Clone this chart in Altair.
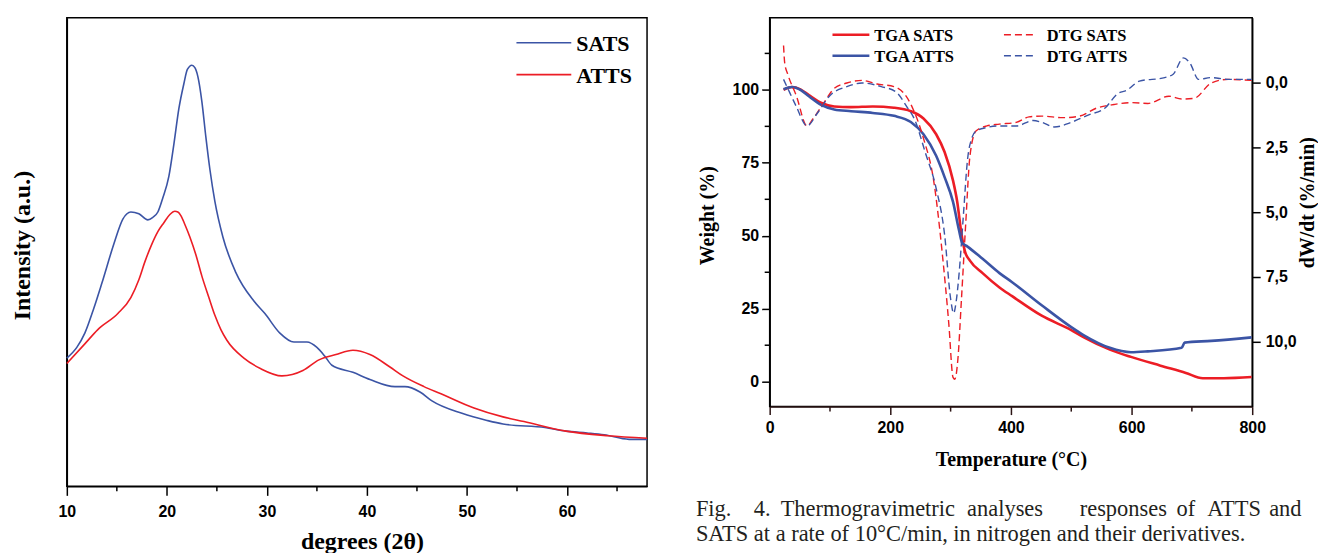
import altair as alt
import pandas as pd

BLUE = "#3b54a5"
RED = "#ec1d25"

# ---------------- XRD (left panel) ----------------
SATS_2THETA = [10.0, 11.0, 11.8, 12.7, 13.5, 14.7, 15.6, 16.4, 17.2, 18.1, 18.6, 19.1, 19.6, 20.2, 20.7,
               21.2, 21.7, 22.05, 22.5, 22.8, 23.1, 23.5, 23.9, 24.3, 24.8, 25.6, 26.9, 28.7, 29.8, 31.3,
               32.7, 34.0, 35.0, 35.8, 36.5, 38.6, 40.3, 42.8, 43.8, 45.3, 46.5, 49.5, 52.0, 53.6, 57.8,
               59.9, 62.0, 63.7, 66.2, 68.0]
SATS_INTENSITY = [36.0, 39.0, 43.0, 50.0, 57.0, 68.0, 75.0, 77.0, 76.5, 74.8, 75.5, 77.0, 81.0, 87.0, 96.0,
                  106.0, 113.0, 117.0, 118.2, 117.5, 115.0, 108.0, 98.0, 89.0, 80.0, 70.0, 60.0, 52.0, 48.5, 43.0,
                  40.5, 40.5, 39.0, 36.5, 34.0, 32.0, 30.0, 28.0, 28.0, 26.5, 24.0, 20.5, 18.5, 17.5, 16.5,
                  15.5, 15.0, 14.5, 13.2, 13.2]
ATTS_2THETA = [10.0, 11.8, 13.1, 15.1, 16.4, 17.2, 17.8, 18.5, 19.1, 19.7, 20.3, 20.8, 21.1, 21.4, 21.8,
               22.3, 22.9, 23.5, 24.2, 24.8, 25.4, 26.0, 27.7, 29.4, 31.5, 33.6, 35.2, 36.9, 38.6, 40.3,
               42.3, 43.6, 45.7, 47.4, 50.7, 53.6, 55.7, 59.9, 64.1, 68.0]
ATTS_INTENSITY = [34.5, 40.0, 44.0, 48.5, 53.0, 58.0, 63.0, 68.0, 71.5, 74.0, 76.3, 77.2, 77.0, 76.0, 73.5,
                  70.0, 65.0, 59.0, 53.0, 48.0, 44.0, 41.0, 36.0, 33.0, 31.0, 32.5, 35.5, 37.0, 38.2, 37.0,
                  33.5, 31.0, 28.0, 26.0, 22.0, 19.5, 18.2, 15.5, 14.2, 13.5]
XRD_TICKS = [10, 20, 30, 40, 50, 60]
XRD_MINOR = [15, 25, 35, 45, 55, 65]

# ---------------- TGA / DTG (right panel) ----------------
TGA_SATS_T = [23, 37, 51, 65, 86, 107, 135, 171, 206, 234, 255, 276, 290, 304, 311, 318, 324, 332, 353, 381,
              402, 451, 500, 521, 564, 599, 648, 690, 718, 753, 799]
TGA_SATS_W = [100, 101, 100.2, 98.2, 95.5, 94.3, 94.1, 94.3, 93.9, 92.7, 90.2, 84.8, 78.7, 68.9, 61.6, 50.6,
              44.5, 41.5, 37.2, 32.3, 29.3, 22.6, 17.7, 15.2, 11.0, 8.5, 5.5, 3.0, 1.2, 1.2, 1.6]
TGA_ATTS_T = [23, 37, 51, 65, 86, 107, 135, 171, 206, 234, 255, 276, 290, 304, 314, 319, 328, 353, 381, 402,
              451, 500, 521, 564, 599, 627, 683, 688, 732, 799]
TGA_ATTS_W = [100.2, 101, 100, 97.8, 94.8, 93.3, 92.7, 92.1, 91.1, 89, 84.8, 77.4, 70.1, 61.6, 51.8, 47.6,
              46.3, 42.1, 37.2, 34.1, 26.2, 18.7, 15.9, 11.6, 10.1, 10.4, 11.6, 13.4, 14.0, 15.2]
DTG_SATS_T = [23, 25, 30, 44, 62, 72, 90, 107, 128, 153, 178, 206, 223, 237, 255, 272, 286, 297, 304, 307,
              312, 318, 325, 332, 342, 360, 381, 409, 430, 451, 486, 514, 542, 571, 599, 627, 662, 683, 704,
              732, 760, 799]
DTG_SATS_D = [-1.45, -0.76, -0.34, 0.48, 1.66, 1.38, 0.76, 0.21, 0.0, -0.1, 0.04, 0.14, 0.41, 0.97, 2.14,
              3.79, 6.55, 9.31, 11.38, 11.45, 10.69, 8.34, 5.45, 2.83, 1.86, 1.66, 1.59, 1.52, 1.31, 1.28,
              1.34, 1.28, 0.97, 0.83, 0.76, 0.79, 0.51, 0.62, 0.59, 0.0, -0.14, -0.1]
DTG_ATTS_T = [23, 30, 44, 62, 79, 100, 128, 153, 185, 209, 227, 241, 258, 276, 290, 300, 305, 309, 314, 321,
              328, 335, 342, 360, 381, 409, 437, 451, 472, 500, 528, 556, 577, 592, 613, 655, 669, 686, 697,
              711, 732, 760, 799]
DTG_ATTS_D = [-0.14, 0.21, 0.90, 1.66, 1.17, 0.48, 0.14, 0.0, 0.14, 0.34, 0.90, 1.45, 2.69, 4.07, 5.86, 8.34,
              8.90, 8.48, 7.38, 5.17, 2.97, 2.14, 1.86, 1.72, 1.66, 1.66, 1.45, 1.52, 1.70, 1.52, 1.24, 0.97,
              0.41, 0.28, -0.07, -0.21, -0.34, -0.97, -0.76, -0.14, -0.21, -0.14, -0.14]
TEMP_TICKS = [0, 200, 400, 600, 800]
TEMP_MINOR = [100, 300, 500, 700]
WEIGHT_TICKS = [0, 25, 50, 75, 100]
WEIGHT_MINOR = [12.5, 37.5, 62.5, 87.5, 112.5]
DTG_TICKS = [0, 2.5, 5, 7.5, 10]
SERIES = ["TGA SATS", "TGA ATTS", "DTG SATS", "DTG ATTS"]
SERIES_COLORS = [RED, BLUE, RED, BLUE]
SERIES_DASHES = [[1, 0], [1, 0], [7, 4], [7, 4]]
SERIES_WIDTHS = [2.6, 2.6, 1.4, 1.4]

# legend layout (pixels, relative to each plot's top-left corner)
XRD_LEGEND_LABELS = ["SATS", "ATTS"]
XRD_LEGEND_COLORS = [BLUE, RED]
XRD_LEGEND_Y = [25, 57]
TG_LEGEND_X = [63, 63, 235, 235]
TG_LEGEND_Y = [17, 38, 17, 38]
TG_LEGEND_LEN = [37, 37, 33, 33]

CAPTION1_WORDS = ["Fig.", "4.", "Thermogravimetric", "analyses", "responses", "of", "ATTS", "and"]
CAPTION1_X = [-74, -16, 11, 198, 311, 408, 439, 501]
CAPTION2 = "SATS at a rate of 10\u00b0C/min, in nitrogen and their derivatives."

SANS = "Liberation Sans"
SERIF = "Liberation Serif"

# ---------------- left panel ----------------
xrd_df = pd.concat([
    pd.DataFrame({"two_theta": SATS_2THETA, "intensity": SATS_INTENSITY, "sample": "SATS"}),
    pd.DataFrame({"two_theta": ATTS_2THETA, "intensity": ATTS_INTENSITY, "sample": "ATTS"}),
], ignore_index=True)

xrd_x_scale = alt.Scale(domain=[10, 68], nice=False, zero=False)
xrd_x_axis = alt.Axis(values=XRD_TICKS, tickSize=9, labelPadding=8, labelFont=SANS, labelFlush=False,
                      labelFontWeight="bold", labelFontSize=16, title="degrees (2\u03b8)",
                      titleX=296, titleY=55, titleAlign="center", titleBaseline="middle",
                      titleFont=SERIF, titleFontSize=24, titleFontWeight="bold")

xrd_lines = alt.Chart(xrd_df).mark_line(strokeWidth=1.6, interpolate="monotone").encode(
    x=alt.X("two_theta:Q", scale=xrd_x_scale, axis=xrd_x_axis),
    y=alt.Y("intensity:Q", scale=alt.Scale(domain=[0, 131.5], nice=False, zero=False),
            axis=alt.Axis(labels=False, ticks=False, title="Intensity (a.u.)", titleX=-44, titleY=228,
                          titleAngle=270, titleAlign="center", titleBaseline="middle",
                          titleFont=SERIF, titleFontSize=24, titleFontWeight="bold")),
    color=alt.Color("sample:N", scale=alt.Scale(domain=XRD_LEGEND_LABELS, range=XRD_LEGEND_COLORS),
                    legend=None),
)
xrd_minor = alt.Chart(pd.DataFrame({"two_theta": XRD_MINOR})).mark_rule(color="black", strokeWidth=1.5).encode(
    x=alt.X("two_theta:Q", scale=xrd_x_scale, axis=xrd_x_axis), y=alt.value(470), y2=alt.value(475))

xrd_legend = []
for lab, col, ly in zip(XRD_LEGEND_LABELS, XRD_LEGEND_COLORS, XRD_LEGEND_Y):
    xrd_legend.append(alt.Chart(pd.DataFrame({"lab": [lab]})).mark_rule(strokeWidth=1.6, color=col).encode(
        x=alt.value(451), x2=alt.value(506), y=alt.value(ly)))
    xrd_legend.append(alt.Chart(pd.DataFrame({"lab": [lab]})).mark_text(
        align="left", baseline="middle", font=SERIF, fontWeight="bold", fontSize=22, color="black"
    ).encode(text="lab:N", x=alt.value(511), y=alt.value(ly + 1)))

left = alt.layer(xrd_lines, xrd_minor, *xrd_legend).properties(width=582, height=470)

# ---------------- right panel ----------------
tga_df = pd.concat([
    pd.DataFrame({"temp": TGA_SATS_T, "weight": TGA_SATS_W, "series": "TGA SATS"}),
    pd.DataFrame({"temp": TGA_ATTS_T, "weight": TGA_ATTS_W, "series": "TGA ATTS"}),
], ignore_index=True)
dtg_df = pd.concat([
    pd.DataFrame({"temp": DTG_SATS_T, "dtg": DTG_SATS_D, "series": "DTG SATS"}),
    pd.DataFrame({"temp": DTG_ATTS_T, "dtg": DTG_ATTS_D, "series": "DTG ATTS"}),
], ignore_index=True)

temp_scale = alt.Scale(domain=[0, 800], nice=False, zero=False)
temp_axis = alt.Axis(values=TEMP_TICKS, tickSize=8, labelPadding=5, labelFont=SANS, labelFlush=False,
                     labelFontWeight="bold", labelFontSize=16, title="Temperature (\u00b0C)",
                     titleX=242, titleY=53, titleAlign="center", titleBaseline="middle",
                     titleFont=SERIF, titleFontSize=20, titleFontWeight="bold",
                     domainColor="#2b1414", tickColor="#2b1414")
weight_scale = alt.Scale(domain=[-8.54, 124.7], nice=False, zero=False)
weight_axis = alt.Axis(values=WEIGHT_TICKS, tickSize=8, labelPadding=3, labelFont=SANS,
                       labelFontWeight="bold", labelFontSize=16, title="Weight (%)",
                       titleX=-62, titleY=198, titleAngle=270, titleAlign="center",
                       titleBaseline="middle", titleFont=SERIF, titleFontSize=20,
                       titleFontWeight="bold")
series_color = alt.Scale(domain=SERIES, range=SERIES_COLORS)
series_dash = alt.Scale(domain=SERIES, range=SERIES_DASHES)

tga_lines = alt.Chart(tga_df).mark_line(strokeWidth=2.6, interpolate="monotone").encode(
    x=alt.X("temp:Q", scale=temp_scale, axis=temp_axis),
    y=alt.Y("weight:Q", scale=weight_scale, axis=weight_axis),
    color=alt.Color("series:N", scale=series_color, legend=None),
)
temp_minor = alt.Chart(pd.DataFrame({"temp": TEMP_MINOR})).mark_rule(color="#2b1414", strokeWidth=1.5).encode(
    x=alt.X("temp:Q", scale=temp_scale, axis=temp_axis), y=alt.value(390), y2=alt.value(395))
weight_minor = alt.Chart(pd.DataFrame({"weight": WEIGHT_MINOR})).mark_rule(color="black", strokeWidth=1.5).encode(
    y=alt.Y("weight:Q", scale=weight_scale, axis=weight_axis), x=alt.value(-5), x2=alt.value(0))

tga_layer = alt.layer(tga_lines, temp_minor, weight_minor)

dtg_lines = alt.Chart(dtg_df).mark_line(strokeWidth=1.4, interpolate="monotone").encode(
    x=alt.X("temp:Q", scale=temp_scale, axis=temp_axis),
    y=alt.Y("dtg:Q", scale=alt.Scale(domain=[-2.52, 12.51], nice=False, zero=False, reverse=True),
            axis=alt.Axis(orient="right", values=DTG_TICKS, tickSize=8, labelPadding=5,
                          labelExpr="replace(format(datum.value, '.1f'), '.', ',')",
                          labelFont=SANS, labelFontWeight="bold", labelFontSize=16,
                          title="dW/dt (%/min)", titleX=55, titleY=185, titleAngle=270,
                          titleAlign="center", titleBaseline="middle", titleFont=SERIF,
                          titleFontSize=20, titleFontWeight="bold")),
    color=alt.Color("series:N", scale=series_color, legend=None),
    strokeDash=alt.StrokeDash("series:N", scale=series_dash, legend=None),
)

tg_legend = []
for lab, col, dash, sw, lx, ly, ln in zip(SERIES, SERIES_COLORS, SERIES_DASHES, SERIES_WIDTHS,
                                         TG_LEGEND_X, TG_LEGEND_Y, TG_LEGEND_LEN):
    text_x = lx + ln + (5 if sw > 2 else 10)
    tg_legend.append(alt.Chart(pd.DataFrame({"lab": [lab]})).mark_rule(
        strokeWidth=sw, color=col, strokeDash=dash).encode(
        x=alt.value(lx), x2=alt.value(lx + ln), y=alt.value(ly)))
    tg_legend.append(alt.Chart(pd.DataFrame({"lab": [lab]})).mark_text(
        align="left", baseline="middle", font=SERIF, fontWeight="bold", fontSize=16.5, color="black"
    ).encode(text="lab:N", x=alt.value(text_x), y=alt.value(ly + 1)))

caption_marks = []
for word, px in zip(CAPTION1_WORDS, CAPTION1_X):
    caption_marks.append(
        alt.Chart(pd.DataFrame({"word": [word]})).mark_text(
            align="left", baseline="alphabetic", font=SERIF, fontSize=22.5, color="#231f20"
        ).encode(text="word:N", x=alt.value(px), y=alt.value(500))
    )
caption_marks.append(
    alt.Chart(pd.DataFrame({"word": [CAPTION2]})).mark_text(
        align="left", baseline="alphabetic", font=SERIF, fontSize=22.5, color="#231f20"
    ).encode(text="word:N", x=alt.value(-74), y=alt.value(525))
)

right = alt.layer(tga_layer, dtg_lines, *tg_legend, *caption_marks).resolve_scale(
    y="independent").properties(width=484, height=390)

chart = alt.hconcat(left, right, spacing=44).resolve_scale(
    color="independent").properties(
    padding={"left": 2, "top": 8, "right": 0, "bottom": -2}
).configure_view(stroke="black", strokeWidth=1.5).configure_axis(
    grid=False, domainColor="black", domainWidth=1.5, tickColor="black", tickWidth=1.5,
    labelColor="black", titleColor="black")

chart.save("out.html", embed_options={"renderer": "svg", "actions": False})
